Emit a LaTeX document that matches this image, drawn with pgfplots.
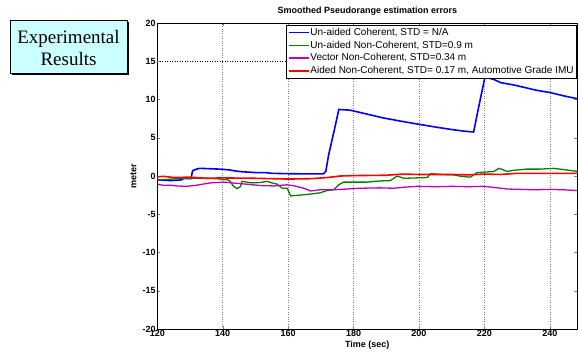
\documentclass[border=0pt]{standalone}
\usepackage{fontspec}
\setmainfont{Liberation Sans}
\newfontfamily\seriffont{Liberation Serif}
\usepackage{pgfplots}
\pgfplotsset{compat=1.18}
\definecolor{boxcyan}{RGB}{204,255,255}
\definecolor{mgreen}{RGB}{0,128,0}
\definecolor{mmag}{RGB}{191,0,191}
\begin{document}
\begin{tikzpicture}
\useasboundingbox (0,0) rectangle (578pt,356pt);
% Experimental Results box
\fill[black] (12pt,281pt) rectangle (129pt,334pt);
\draw[black, fill=boxcyan, line width=0.6pt] (10pt,283pt) rectangle (127pt,336pt);
\node[align=center, font=\seriffont\fontsize{19}{22}\selectfont, inner sep=0pt] at (68.5pt,307.5pt) {Experimental\\Results};
\begin{axis}[
  at={(157.3pt,27pt)}, anchor=south west,
  scale only axis, width=420pt, height=306pt,
  xmin=120, xmax=248.4, ymin=-20, ymax=20,
  xtick={120,140,...,240}, ytick={-20,-15,...,20},
  tick align=inside, major tick length=3pt,
  /pgf/number format/assume math mode=true,
  tick label style={font=\bfseries\fontsize{9}{9}\selectfont},
  xticklabel style={inner sep=1.5pt},
  yticklabel style={inner sep=1.5pt},
  axis line style={black, line width=0.7pt},
  xmajorgrids,
  grid style={gray, dotted, line width=0.5pt},
  extra y ticks={15}, extra y tick labels={},
  extra y tick style={grid=major, grid style={black, dotted, line width=0.6pt}},
  every axis title shift=0pt,
  title={Smoothed Pseudorange estimation errors},
  title style={font=\bfseries\fontsize{9}{9}\selectfont, at={(axis description cs:0.5,1.039)}, anchor=center},
  xlabel={Time (sec)},
  xlabel style={font=\bfseries\fontsize{9}{9}\selectfont, at={(axis description cs:0.5,-0.052)}, anchor=center},
  ylabel={meter},
  ylabel style={font=\bfseries\fontsize{9}{9}\selectfont, at={(axis description cs:-0.057,0.5)}, anchor=center},
  legend style={at={(1,1)}, anchor=north east, xshift=-0.5pt, yshift=-2pt,
    font=\fontsize{10}{12}\selectfont, draw=black, fill=white,
    inner sep=2pt, row sep=2pt, nodes={inner sep=1pt}},
  legend cell align=left,
  legend image code/.code={\draw[#1, line width=1.5pt] (0pt,0pt) -- (20pt,0pt);},
]
\addplot[blue, line width=1.6pt] coordinates {
(120,-0.5) (122,-0.55) (124,-0.6) (126,-0.55) (127.5,-0.5) (128,-0.3) (130.3,-0.35) (130.8,0.7) (132,0.9) (133,1.0) (136,0.95) (139,0.9) (142,0.8) (144,0.65) (146,0.55) (150,0.45) (153,0.45) (155,0.35) (160,0.3) (165,0.28) (170.8,0.28) (171.5,0.6) (172.4,2.8) (174,5.8) (175.5,8.7) (179,8.6) (184,8.1) (189,7.6) (194,7.2) (199.4,6.8) (205,6.4) (209.6,6.1) (214,5.85) (216.7,5.75) (218,8.5) (220.1,12.8) (220.5,12.9) (223,12.6) (225,12.2) (229,11.9) (233,11.5) (236,11.2) (240.2,10.9) (244,10.5) (248.4,10.1)
};
\addlegendentry{Un-aided Coherent, STD = N/A}
\addplot[mgreen, line width=1.3pt] coordinates {
(120,-0.5) (123,-0.45) (126,-0.35) (130,-0.3) (134,-0.3) (138,-0.35) (141.5,-0.5) (142.3,-0.7) (143.3,-1.35) (144.4,-1.65) (145.4,-1.4) (145.9,-0.7) (147.4,-0.8) (149,-0.9) (151.5,-0.85) (153.6,-0.7) (155,-0.9) (156.6,-1.05) (158.2,-1.6) (159.7,-1.6) (160.8,-2.6) (163.7,-2.5) (167,-2.35) (169.8,-2.2) (171.9,-1.9) (173.9,-1.8) (175.5,-1.15) (176.9,-0.8) (180,-0.8) (184.1,-0.8) (188,-0.65) (191.3,-0.6) (193.3,0.0) (195.4,-0.3) (199,-0.25) (202.5,-0.2) (203.5,0.3) (207,0.2) (210.6,0.15) (213,-0.05) (215.7,-0.15) (217.8,0.45) (220,0.5) (222.9,0.6) (224.4,1.0) (225.5,0.85) (226.9,0.6) (229,0.75) (233,0.9) (237,0.9) (241.2,1.0) (244,0.85) (248.4,0.6)
};
\addlegendentry{Un-aided Non-Coherent, STD=0.9 m}
\addplot[mmag, line width=1.3pt] coordinates {
(120,-1.05) (121.5,-1.2) (124,-1.2) (126,-1.3) (129.1,-1.35) (132.1,-1.2) (136.2,-0.9) (140.3,-0.8) (143,-0.9) (145.4,-1.0) (148,-1.1) (151.5,-1.25) (155.6,-1.3) (159.7,-1.15) (162,-1.3) (164.8,-1.6) (166.8,-1.95) (169.8,-1.8) (173.9,-1.8) (176,-1.75) (182,-1.6) (188,-1.55) (192.3,-1.6) (196,-1.45) (199.4,-1.35) (205,-1.4) (210,-1.35) (215,-1.4) (219.8,-1.35) (223,-1.5) (226.9,-1.7) (231,-1.75) (235.1,-1.8) (240,-1.75) (244,-1.8) (248.4,-1.9)
};
\addlegendentry{Vector Non-Coherent, STD=0.34 m}
\addplot[red, line width=1.6pt] coordinates {
(120,-0.1) (122,-0.05) (125,-0.2) (130,-0.15) (135,-0.3) (140,-0.25) (150,-0.3) (160,-0.4) (167,-0.35) (172,-0.2) (176,0.0) (180,0.05) (190,0.1) (195,0.25) (200,0.2) (210,0.2) (215,0.15) (220,0.25) (225,0.2) (230,0.35) (240,0.35) (248.4,0.35)
};
\addlegendentry{Aided Non-Coherent, STD= 0.17 m, Automotive Grade IMU}
\end{axis}
\end{tikzpicture}
\end{document}
